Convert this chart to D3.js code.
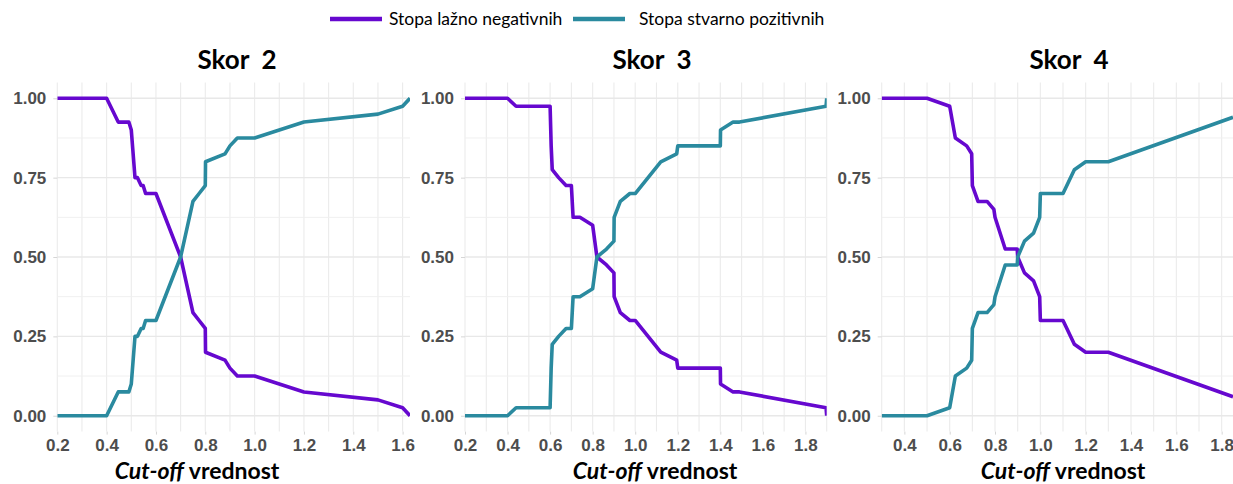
<!DOCTYPE html>
<html>
<head>
<meta charset="utf-8">
<script src="https://cdn.jsdelivr.net/npm/d3@7"></script>
<style>
  body { margin: 0; background: #fff; }
  svg { display: block; }
</style>
</head>
<body>
<svg id="chart" width="1233" height="484"></svg>
<script>
// ---- data ----
const seriesNames = ["Stopa lažno negativnih", "Stopa stvarno pozitivnih"];
const seriesColors = ["#6608cf", "#2a8a9f"];
const panelTitles = ["Skor\u00a0\u00a02", "Skor\u00a0\u00a03", "Skor\u00a0\u00a04"];
const axisTitleItalic = "Cut-off";
const axisTitleRest = " vrednost";
const yTickValues = [0, 0.25, 0.5, 0.75, 1];

const skor2Cutoff = [0.2, 0.4, 0.447, 0.49, 0.5, 0.515, 0.525, 0.54, 0.548, 0.558, 0.6, 0.7, 0.75, 0.775, 0.8, 0.801, 0.88, 0.9, 0.93, 1.0, 1.2, 1.5, 1.6, 1.63];
const skor2FNR    = [1, 1, 0.925, 0.925, 0.9, 0.75, 0.75, 0.725, 0.725, 0.7, 0.7, 0.5, 0.325, 0.3, 0.275, 0.2, 0.175, 0.15, 0.125, 0.125, 0.075, 0.05, 0.025, 0];
const skor2TPR    = [0, 0, 0.075, 0.075, 0.1, 0.25, 0.25, 0.275, 0.275, 0.3, 0.3, 0.5, 0.675, 0.7, 0.725, 0.8, 0.825, 0.85, 0.875, 0.875, 0.925, 0.95, 0.975, 1];

const skor3Cutoff = [0.2, 0.4, 0.44, 0.6, 0.605, 0.61, 0.64, 0.675, 0.7, 0.708, 0.74, 0.8, 0.82, 0.865, 0.9, 0.901, 0.93, 0.975, 1.0, 1.12, 1.195, 1.2, 1.4, 1.401, 1.46, 1.49, 1.897, 1.9];
const skor3FNR    = [1, 1, 0.975, 0.975, 0.85, 0.775, 0.75, 0.725, 0.725, 0.625, 0.625, 0.6, 0.5, 0.475, 0.45, 0.375, 0.325, 0.3, 0.3, 0.2, 0.175, 0.15, 0.15, 0.1, 0.075, 0.075, 0.025, 0];
const skor3TPR    = [0, 0, 0.025, 0.025, 0.15, 0.225, 0.25, 0.275, 0.275, 0.375, 0.375, 0.4, 0.5, 0.525, 0.55, 0.625, 0.675, 0.7, 0.7, 0.8, 0.825, 0.85, 0.85, 0.9, 0.925, 0.925, 0.975, 1];

const skor4Cutoff = [0.3, 0.5, 0.6, 0.625, 0.675, 0.697, 0.7, 0.725, 0.765, 0.795, 0.8, 0.845, 0.898, 0.9, 0.93, 0.97, 0.997, 1.0, 1.1, 1.15, 1.2, 1.3, 1.85];
const skor4FNR    = [1, 1, 0.975, 0.875, 0.85, 0.825, 0.725, 0.675, 0.675, 0.65, 0.625, 0.525, 0.525, 0.5, 0.45, 0.425, 0.375, 0.3, 0.3, 0.225, 0.2, 0.2, 0.06];
const skor4TPR    = [0, 0, 0.025, 0.125, 0.15, 0.175, 0.275, 0.325, 0.325, 0.35, 0.375, 0.475, 0.475, 0.5, 0.55, 0.575, 0.625, 0.7, 0.7, 0.775, 0.8, 0.8, 0.94];

const skor2XTicks = [0.2, 0.4, 0.6, 0.8, 1.0, 1.2, 1.4, 1.6];
const skor3XTicks = [0.2, 0.4, 0.6, 0.8, 1.0, 1.2, 1.4, 1.6, 1.8];
const skor4XTicks = [0.4, 0.6, 0.8, 1.0, 1.2, 1.4, 1.6, 1.8];

// ---- layout ----
const panels = [
  { title: panelTitles[0], cutoff: skor2Cutoff, fnr: skor2FNR, tpr: skor2TPR, xTicks: skor2XTicks,
    domain: [0.2, 1.63], range: [57.3, 410], titleX: 237, axisTitleX: 197, axisTitleY: 479 },
  { title: panelTitles[1], cutoff: skor3Cutoff, fnr: skor3FNR, tpr: skor3TPR, xTicks: skor3XTicks,
    domain: [0.2, 1.9], range: [465, 826.7], titleX: 652, axisTitleX: 655, axisTitleY: 479 },
  { title: panelTitles[2], cutoff: skor4Cutoff, fnr: skor4FNR, tpr: skor4TPR, xTicks: skor4XTicks,
    domain: [0.3, 1.85], range: [881.7, 1233], titleX: 1069, axisTitleX: 1063, axisTitleY: 479 }
];

const svg = d3.select("#chart");
svg.append("rect").attr("width", 1233).attr("height", 484).attr("fill", "#fff");

const y = d3.scaleLinear().domain([-0.05, 1.05]).range([431.6, 82.4]);
const tickFont = "'Liberation Sans', Arial, sans-serif";
const labelFont = "Lato, 'Open Sans', sans-serif";

panels.forEach((p, i) => {
  const x = d3.scaleLinear().domain(p.domain).range(p.range);
  const g = svg.append("g");
  const [x0, x1] = p.range;

  // grid: vertical lines every 0.1
  const vLines = d3.range(Math.round(p.domain[0] * 10), Math.floor(p.domain[1] * 10 + 1e-6) + 1).map(v => v / 10);
  g.selectAll(".vgrid").data(vLines).join("line")
    .attr("x1", d => x(d)).attr("x2", d => x(d))
    .attr("y1", y.range()[1]).attr("y2", y.range()[0])
    .attr("stroke", "#ebebeb").attr("stroke-width", 1.1);
  // horizontal minor grid
  const hMinor = [0.125, 0.375, 0.625, 0.875];
  g.selectAll(".hminor").data(hMinor).join("line")
    .attr("x1", x0).attr("x2", x1).attr("y1", d => y(d)).attr("y2", d => y(d))
    .attr("stroke", "#f0f0f0").attr("stroke-width", 1);
  // horizontal major grid
  g.selectAll(".hmajor").data(yTickValues).join("line")
    .attr("x1", x0).attr("x2", x1).attr("y1", d => y(d)).attr("y2", d => y(d))
    .attr("stroke", "#e8e8e8").attr("stroke-width", 1.4);

  // axes
  const yAxis = d3.axisLeft(y).tickValues(yTickValues).tickFormat(d3.format(".2f")).tickSize(4).tickPadding(7);
  const ya = g.append("g").attr("transform", `translate(${x0},0)`).call(yAxis);
  const xAxis = d3.axisBottom(x).tickValues(p.xTicks).tickFormat(d3.format(".1f")).tickSize(3).tickPadding(4);
  const xa = g.append("g").attr("transform", `translate(0,${y.range()[0]})`).call(xAxis);
  [ya, xa].forEach(a => {
    a.select(".domain").remove();
    a.selectAll(".tick line").attr("stroke", "#d6d6d6");
    a.selectAll(".tick text")
      .attr("fill", "#4d4d4d")
      .style("font-family", tickFont)
      .style("font-weight", "bold")
      .style("font-size", "17px");
  });

  // series lines
  const clipId = "clip" + i;
  svg.append("clipPath").attr("id", clipId).append("rect")
    .attr("x", x0).attr("y", y.range()[1]).attr("width", x1 - x0).attr("height", y.range()[0] - y.range()[1]);
  const line = d3.line().x(d => x(d[0])).y(d => y(d[1]));
  const series = [p.fnr, p.tpr];
  series.forEach((vals, k) => {
    g.append("path")
      .datum(p.cutoff.map((c, j) => [c, vals[j]]))
      .attr("d", line)
      .attr("clip-path", `url(#${clipId})`)
      .attr("fill", "none")
      .attr("stroke", seriesColors[k])
      .attr("stroke-width", 3.6)
      .attr("stroke-linejoin", "round");
  });

  // panel title
  svg.append("text")
    .attr("x", p.titleX).attr("y", 69)
    .attr("text-anchor", "middle")
    .style("font-family", labelFont).style("font-weight", "bold").style("font-size", "26px")
    .attr("fill", "#000")
    .text(p.title);

  // x axis title
  const t = svg.append("text")
    .attr("x", p.axisTitleX).attr("y", p.axisTitleY)
    .attr("text-anchor", "middle")
    .style("font-family", labelFont).style("font-weight", "bold").style("font-size", "23px")
    .attr("fill", "#000");
  t.append("tspan").style("font-style", "italic").text(axisTitleItalic);
  t.append("tspan").text(axisTitleRest);
});

// legend
const legend = svg.append("g");
const legendItems = [
  { x1: 330, x2: 382, tx: 389 },
  { x1: 573, x2: 625, tx: 639 }
];
legendItems.forEach((it, k) => {
  legend.append("line")
    .attr("x1", it.x1).attr("x2", it.x2).attr("y1", 19).attr("y2", 19)
    .attr("stroke", seriesColors[k]).attr("stroke-width", 4.5);
  legend.append("text")
    .attr("x", it.tx).attr("y", 25)
    .style("font-family", labelFont).style("font-size", "17.5px")
    .attr("fill", "#000")
    .text(seriesNames[k]);
});
</script>
</body>
</html>
